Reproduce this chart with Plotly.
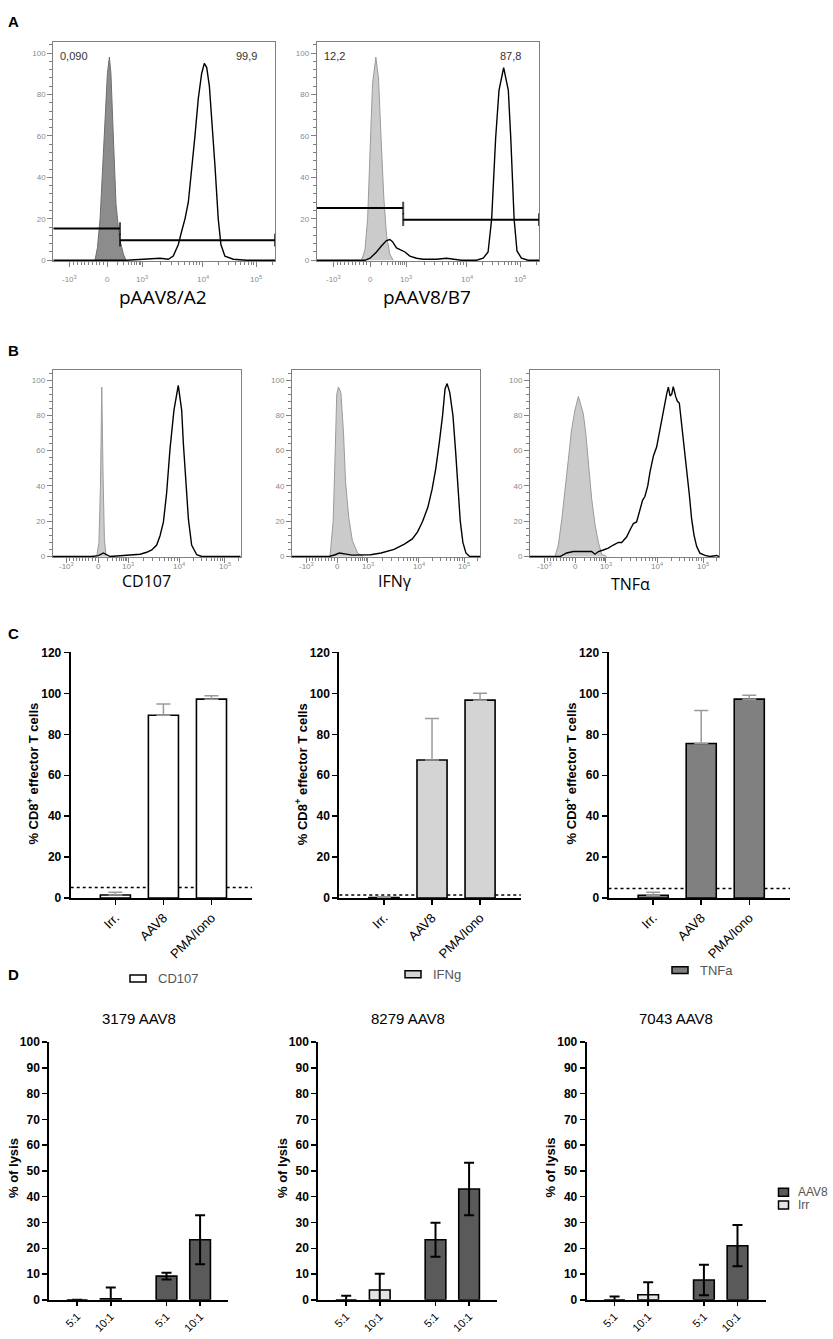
import math
import plotly.graph_objects as go

W, H = 833, 1339

# ======================= DATA =======================
# flow-cytometry display axis (biexponential channel units 0-1000)
flow_tick_pos = [75, 243, 402, 674, 916]
flow_tick_text = ["-10<sup>3</sup>", "0", "10<sup>3</sup>", "10<sup>4</sup>", "10<sup>5</sup>"]
flow_y_ticks = [0, 20, 40, 60, 80, 100]

# ---- Panel A ----
a_titles = ["pAAV8/A2", "pAAV8/B7"]
a1_ctrl_x = [188, 199, 211, 229, 244, 253, 260, 271, 283, 298, 316, 328]
a1_ctrl_y = [0, 6, 20, 59, 90, 98, 90, 59, 27, 11, 3, 0]
a1_test_x = [0, 331, 481, 519, 541, 564, 579, 594, 609, 624, 639, 654, 669, 681,
             692, 704, 714, 729, 744, 756, 774, 812, 872, 1000]
a1_test_y = [0, 0, 1, 0.5, 2, 7.6, 14, 20, 28, 43, 60, 78, 90, 95,
             93, 84, 70, 46, 20, 7.6, 2, 0.5, 0, 0]
a2_ctrl_x = [202, 217, 229, 240, 251, 266, 278, 289, 302, 314, 329, 344]
a2_ctrl_y = [0, 5, 20, 50, 85, 98, 88, 60, 30, 12, 3, 0]
a2_test_x = [0, 217, 240, 269, 292, 314, 329, 341, 359, 377, 397, 419, 449, 479,
             539, 584, 614, 651, 719, 749, 771, 787, 805, 820, 841, 862, 873, 888,
             901, 921, 951, 1000]
a2_test_y = [0, 0, 1, 4, 7, 9.5, 10, 9, 6, 5, 4, 2, 1, 0.5,
             0.5, 1, 0.5, 0, 0, 1, 4, 20, 59, 82, 93, 82, 59, 20,
             4.5, 1, 0, 0]
a_gate_split = [301, 389]
a_gate_left_y = [15.3, 25.2]
a_gate_right_y = [9.7, 19.6]
a_pct_left = ["0,090", "12,2"]
a_pct_right = ["99,9", "87,8"]

# ---- Panel B ----
b_titles = ["CD107", "IFNγ", "TNFα"]
b1_ctrl_x = [234, 246, 254, 261, 268, 275, 284]
b1_ctrl_y = [0, 8, 40, 96, 45, 10, 0]
b1_test_x = [0, 207, 243, 270, 305, 394, 465, 500, 527, 553, 571, 589, 606, 624,
             645, 668, 686, 695, 707, 722, 739, 766, 793, 1000]
b1_test_y = [0, 0, 0.5, 2, 0, 0.5, 1.3, 2.4, 3.7, 6.5, 11.8, 19.6, 36, 61,
             83, 97, 83, 64, 42, 21, 6.5, 1, 0, 0]
b2_ctrl_x = [202, 219, 230, 238, 247, 260, 274, 285, 302, 321, 349, 377]
b2_ctrl_y = [0, 20, 60, 92, 96, 93, 70, 42, 22, 9, 2, 0]
b2_test_x = [0, 197, 230, 252, 280, 320, 418, 474, 543, 598, 640, 668, 695, 723,
             745, 765, 784, 801, 814, 825, 839, 856, 870, 881, 895, 909, 925, 945, 1000]
b2_test_y = [0, 0, 1, 2, 1.5, 0.8, 1, 2, 4, 7, 10, 14, 20, 28,
             38, 50, 65, 80, 95, 98, 93, 80, 60, 40, 20, 8, 2, 0, 0]
b3_ctrl_x = [132, 150, 168, 185, 203, 220, 238, 256, 270, 282, 295, 309, 326, 344,
             362, 379, 406]
b3_ctrl_y = [0, 6.5, 21, 36, 55, 72, 83, 90.7, 85, 81, 70, 51, 33, 18, 8, 1.3, 0]
b3_test_x = [0, 159, 194, 229, 265, 300, 326, 344, 362, 388, 414, 441, 467, 485,
             511, 529, 547, 564, 582, 596, 608, 623, 635, 653, 670, 684, 698, 709,
             723, 732, 741, 750, 758, 771, 780, 790, 802, 815, 829, 843, 855, 868,
             882, 899, 926, 952, 988, 1000]
b3_test_y = [0, 0, 2, 2.8, 2.8, 2.8, 2.8, 1.3, 2.8, 3.7, 4.7, 6.5, 8, 7.9,
             11, 15, 18.7, 19.6, 27, 32, 34, 40, 48, 57, 62, 70, 79, 84,
             92, 96, 91, 92, 96.3, 90.6, 88, 87, 76, 64, 50, 35, 21.5, 12,
             5.6, 1.9, 0.6, 0, 0.6, 0]

# ---- Panel C ----
c_categories = ["Irr.", "AAV8", "PMA/Iono"]
c_markers = ["CD107", "IFNg", "TNFa"]
c_cd107 = [1.5, 89.3, 97.2]
c_cd107_err = [1.4, 5.5, 1.7]
c_ifng = [0.3, 67.5, 96.7]
c_ifng_err = [0.4, 20.2, 3.4]
c_tnfa = [1.4, 75.5, 97.2]
c_tnfa_err = [1.5, 16.1, 1.9]
c_cutoff = [5.2, 1.5, 4.7]
c_y_title = "% CD8<sup>+</sup> effector T cells"

# ---- Panel D ----
d_titles = ["3179 AAV8", "8279 AAV8", "7043 AAV8"]
d_ratios = ["5:1", "10:1"]
d_groups = ["Irr", "AAV8"]
d_irr = [[0, 0.4], [0, 3.8], [0, 2.0]]
d_irr_err = [[0, 4.4], [1.6, 6.3], [1.3, 4.8]]
d_aav8 = [[9.2, 23.3], [23.3, 43.0], [7.7, 21.0]]
d_aav8_err = [[1.3, 9.5], [6.6, 10.2], [5.9, 8.0]]
d_y_title = "% of lysis"

# ======================= STYLE =======================
ARIAL = "Liberation Sans, Arial, sans-serif"
CAL = "Open Sans, Noto Sans, sans-serif"
FLOW_LINE = "#808080"
FLOW_TXT = "#8a8a8a"


def px_x(v):
    return v / W


def px_y(v):
    return 1 - v / H


def names(i):
    s = "" if i == 1 else str(i)
    return "x" + s, "y" + s, "xaxis" + s, "yaxis" + s


fig = go.Figure()
layout = dict(width=W, height=H, margin=dict(l=0, r=0, t=0, b=0),
              paper_bgcolor="white", plot_bgcolor="white", showlegend=False)
annotations = []
shapes = []

# ---------------- flow histograms ----------------
flow_minor = ([75 + (243 - 75) * k / 10 for k in range(1, 10)]
              + [243 + (402 - 243) * math.log10(k) for k in range(2, 10)]
              + [402 + (674 - 402) * math.log10(k) for k in range(2, 10)]
              + [674 + (916 - 674) * math.log10(k) for k in range(2, 10)]
              + [916 + (916 - 674) * math.log10(2)])


def flow_panel(i, box, ctrl_x, ctrl_y, test_x, test_y, ctrl_fill, ctrl_line,
               title, title_xy, title_size, label_y, gate=None):
    xn, yn, xa, ya = names(i)
    l, r, top, bot = box
    layout[xa] = dict(domain=[px_x(l), px_x(r)], anchor=yn, range=[0, 1000],
                      showline=True, linecolor=FLOW_LINE, linewidth=1, mirror=True,
                      ticks="outside", ticklen=5, tickwidth=1, tickcolor=FLOW_LINE,
                      tickmode="array", tickvals=flow_tick_pos, showticklabels=False,
                      showgrid=False, zeroline=False,
                      minor=dict(tickmode="array", tickvals=flow_minor, ticks="outside",
                                 ticklen=3, tickcolor=FLOW_LINE, tickwidth=1, showgrid=False))
    layout[ya] = dict(domain=[px_y(bot), px_y(top)], anchor=xn, range=[-0.5, 105.5],
                      showline=True, linecolor=FLOW_LINE, linewidth=1, mirror=True,
                      ticks="outside", ticklen=5, tickwidth=1, tickcolor=FLOW_LINE,
                      tickmode="array", tickvals=flow_y_ticks,
                      tickfont=dict(family=ARIAL, size=8, color=FLOW_TXT),
                      showgrid=False, zeroline=False,
                      minor=dict(dtick=4, tick0=0, ticks="outside", ticklen=3,
                                 tickcolor=FLOW_LINE, tickwidth=1, showgrid=False))
    for tv, tt in zip(flow_tick_pos, flow_tick_text):
        annotations.append(dict(x=tv, y=px_y(label_y), xref=xn, yref="paper", text=tt,
                                showarrow=False, xanchor="center", yanchor="middle",
                                font=dict(family=ARIAL, size=8, color=FLOW_TXT)))
    fig.add_trace(go.Scatter(x=ctrl_x, y=ctrl_y, mode="lines", fill="tozeroy",
                             fillcolor=ctrl_fill, line=dict(color=ctrl_line, width=1),
                             xaxis=xn, yaxis=yn, hoverinfo="skip"))
    fig.add_trace(go.Scatter(x=test_x, y=test_y, mode="lines",
                             line=dict(color="black", width=1.4),
                             xaxis=xn, yaxis=yn, hoverinfo="skip"))
    if gate is not None:
        split, yl, yr, tl, tr = gate
        fig.add_trace(go.Scatter(x=[0, split], y=[yl, yl], mode="lines+markers",
                                 line=dict(color="black", width=2),
                                 marker=dict(symbol="line-ns", size=[0, 9],
                                             line=dict(color="black", width=2)),
                                 xaxis=xn, yaxis=yn, hoverinfo="skip", cliponaxis=False))
        fig.add_trace(go.Scatter(x=[split, 1000], y=[yr, yr], mode="lines+markers",
                                 line=dict(color="black", width=2),
                                 marker=dict(symbol="line-ns", size=[9, 9],
                                             line=dict(color="black", width=2)),
                                 xaxis=xn, yaxis=yn, hoverinfo="skip", cliponaxis=False))
        annotations.append(dict(x=22, y=98.5, xref=xn, yref=yn, text=tl, showarrow=False,
                                xanchor="left", yanchor="middle",
                                font=dict(family=ARIAL, size=11, color="#333333")))
        annotations.append(dict(x=930, y=98.5, xref=xn, yref=yn, text=tr, showarrow=False,
                                xanchor="right", yanchor="middle",
                                font=dict(family=ARIAL, size=11, color="#333333")))
    annotations.append(dict(x=px_x(title_xy[0]), y=px_y(title_xy[1]), xref="paper",
                            yref="paper", text=title, showarrow=False,
                            xanchor="center", yanchor="middle",
                            font=dict(family=CAL, size=title_size, color="black")))


flow_panel(1, (53.3, 275, 35, 257), a1_ctrl_x, a1_ctrl_y, a1_test_x, a1_test_y,
           "#8c8c8c", "#6e6e6e", a_titles[0], (163, 293), 19, 275,
           gate=(a_gate_split[0], a_gate_left_y[0], a_gate_right_y[0], a_pct_left[0], a_pct_right[0]))
flow_panel(2, (316.7, 539, 35, 257), a2_ctrl_x, a2_ctrl_y, a2_test_x, a2_test_y,
           "#cbcbcb", "#9a9a9a", a_titles[1], (427, 293), 19, 275,
           gate=(a_gate_split[1], a_gate_left_y[1], a_gate_right_y[1], a_pct_left[1], a_pct_right[1]))
flow_panel(3, (52.7, 240.7, 367.2, 556.2), b1_ctrl_x, b1_ctrl_y, b1_test_x, b1_test_y,
           "#cbcbcb", "#9a9a9a", b_titles[0], (146.7, 580), 16, 565)
flow_panel(4, (292, 480, 367.2, 556.2), b2_ctrl_x, b2_ctrl_y, b2_test_x, b2_test_y,
           "#cbcbcb", "#9a9a9a", b_titles[1], (395, 580), 16, 565)
flow_panel(5, (530, 719, 367.2, 556.2), b3_ctrl_x, b3_ctrl_y, b3_test_x, b3_test_y,
           "#cbcbcb", "#9a9a9a", b_titles[2], (630.7, 583), 16, 565)

# ---------------- panel C bar charts ----------------
c_values = [c_cd107, c_ifng, c_tnfa]
c_errors = [c_cd107_err, c_ifng_err, c_tnfa_err]
c_fills = ["#ffffff", "#d4d4d4", "#808080"]
c_left = [70.7, 339.3, 608.5]
C_W = 181.6
C_TOP, C_BOT = 652.3, 900.5
C_RANGE = [-0.93, 2.85]
c_pos = list(range(len(c_categories)))
c_legend_y = [981.7, 977.5, 973.3]
c_legend_sw = [130, 405, 672]

for k in range(3):
    i = 6 + k
    xn, yn, xa, ya = names(i)
    l = c_left[k]
    layout[xa] = dict(domain=[px_x(l), px_x(l + C_W)], anchor=yn, range=C_RANGE,
                      showline=True, linecolor="black", linewidth=2,
                      ticks="outside", ticklen=5, tickwidth=1.5, tickcolor="black",
                      tickmode="array", tickvals=c_pos, ticktext=c_categories,
                      tickangle=-45,
                      tickfont=dict(family=ARIAL, size=13, color="black"),
                      showgrid=False, zeroline=False)
    layout[ya] = dict(domain=[px_y(C_BOT), px_y(C_TOP)], anchor=xn, range=[0, 120],
                      showline=True, linecolor="black", linewidth=2,
                      ticks="outside", ticklen=5, tickwidth=1.5, tickcolor="black",
                      dtick=20, tick0=0,
                      tickfont=dict(family=ARIAL, size=12, color="black", weight="bold"),
                      showgrid=False, zeroline=False)
    shapes.append(dict(type="line", xref=xn, yref=yn, x0=C_RANGE[0], x1=C_RANGE[1],
                       y0=c_cutoff[k], y1=c_cutoff[k], layer="below",
                       line=dict(color="black", width=1.5, dash="dot")))
    fig.add_trace(go.Bar(x=c_pos, y=c_values[k], width=0.626,
                         marker=dict(color=c_fills[k], line=dict(color="black", width=1.6)),
                         error_y=dict(type="data", symmetric=False, array=c_errors[k],
                                      arrayminus=[0] * len(c_errors[k]),
                                      color="#9a9a9a", thickness=1.5, width=7),
                         xaxis=xn, yaxis=yn, hoverinfo="skip"))
    annotations.append(dict(x=px_x(l - 38), y=px_y(775), xref="paper", yref="paper",
                            text=c_y_title, textangle=-90, showarrow=False,
                            xanchor="center", yanchor="middle",
                            font=dict(family=ARIAL, size=13, color="black", weight="bold")))
    sx = c_legend_sw[k]
    sy = c_legend_y[k]
    shapes.append(dict(type="rect", xref="paper", yref="paper",
                       x0=px_x(sx), x1=px_x(sx + 16), y0=px_y(sy + 3.5), y1=px_y(sy - 3.5),
                       fillcolor=c_fills[k], line=dict(color="black", width=1.5)))
    annotations.append(dict(x=px_x(sx + 26), y=px_y(sy), xref="paper", yref="paper",
                            text=c_markers[k], showarrow=False, xanchor="left",
                            yanchor="middle",
                            font=dict(family=ARIAL, size=13, color="#555555")))

# ---------------- panel D bar charts ----------------
d_left = [49.3, 318.3, 586.7]
D_W = 179.0
D_TOP, D_BOT = 1046.0, 1306.5
D_RANGE = [-0.83, 4.5]
GROUP_STEP = 2.66
d_pos = [[g * GROUP_STEP + r for r in range(len(d_ratios))] for g in range(len(d_groups))]
d_tickvals = d_pos[0] + d_pos[1]
d_ticktext = d_ratios + d_ratios
d_fills = {"Irr": "#e4e4e4", "AAV8": "#5a5a5a"}

for k in range(3):
    i = 9 + k
    xn, yn, xa, ya = names(i)
    l = d_left[k]
    layout[xa] = dict(domain=[px_x(l), px_x(l + D_W)], anchor=yn, range=D_RANGE,
                      showline=True, linecolor="black", linewidth=2,
                      ticks="outside", ticklen=4, tickwidth=1.5, tickcolor="black",
                      tickmode="array", tickvals=d_tickvals, ticktext=d_ticktext,
                      tickangle=-45,
                      tickfont=dict(family=ARIAL, size=11, color="black"),
                      showgrid=False, zeroline=False)
    layout[ya] = dict(domain=[px_y(D_BOT), px_y(D_TOP)], anchor=xn, range=[0, 100],
                      showline=True, linecolor="black", linewidth=2,
                      ticks="outside", ticklen=5, tickwidth=1.5, tickcolor="black",
                      dtick=10, tick0=0,
                      tickfont=dict(family=ARIAL, size=12, color="black", weight="bold"),
                      showgrid=False, zeroline=False)
    for g, vals, errs in ((0, d_irr[k], d_irr_err[k]), (1, d_aav8[k], d_aav8_err[k])):
        fig.add_trace(go.Bar(x=d_pos[g], y=vals, width=0.616,
                             marker=dict(color=d_fills[d_groups[g]],
                                         line=dict(color="black", width=1.6)),
                             error_y=dict(type="data", array=errs, visible=True,
                                          color="black", thickness=2, width=5),
                             xaxis=xn, yaxis=yn, hoverinfo="skip"))
    annotations.append(dict(x=px_x(l + 89.5), y=px_y(1022), xref="paper", yref="paper",
                            text=d_titles[k], showarrow=False, xanchor="center",
                            yanchor="middle",
                            font=dict(family=ARIAL, size=15, color="black")))
    annotations.append(dict(x=px_x(l - 36), y=px_y(1173), xref="paper", yref="paper",
                            text=d_y_title, textangle=-90, showarrow=False,
                            xanchor="center", yanchor="middle",
                            font=dict(family=ARIAL, size=13, color="black", weight="bold")))

# D legend
d_leg_y = [1197.7, 1210.7]
for g, name in enumerate(["AAV8", "Irr"]):
    sy = d_leg_y[g]
    shapes.append(dict(type="rect", xref="paper", yref="paper",
                       x0=px_x(778.5), x1=px_x(788.5), y0=px_y(sy + 4), y1=px_y(sy - 4),
                       fillcolor=d_fills[name], line=dict(color="black", width=1.5)))
    annotations.append(dict(x=px_x(796), y=px_y(sy), xref="paper", yref="paper",
                            text=name, showarrow=False, xanchor="left", yanchor="middle",
                            font=dict(family=ARIAL, size=12, color="#555555")))

# panel letters
for letter, (lx, ly) in zip(["A", "B", "C", "D"], [(13, 15), (13, 347), (13, 633), (13, 978)]):
    annotations.append(dict(x=px_x(lx), y=px_y(ly), xref="paper", yref="paper",
                            text=letter, showarrow=False, xanchor="center", yanchor="middle",
                            font=dict(family=ARIAL, size=15, color="black", weight="bold")))

layout["annotations"] = annotations
layout["shapes"] = shapes
layout["bargap"] = 0
fig.update_layout(**layout)
fig.write_html("out.html",
               config={"displayModeBar": False, "staticPlot": True},
               post_script="document.body.style.margin='0px';document.body.style.overflow='hidden';")
